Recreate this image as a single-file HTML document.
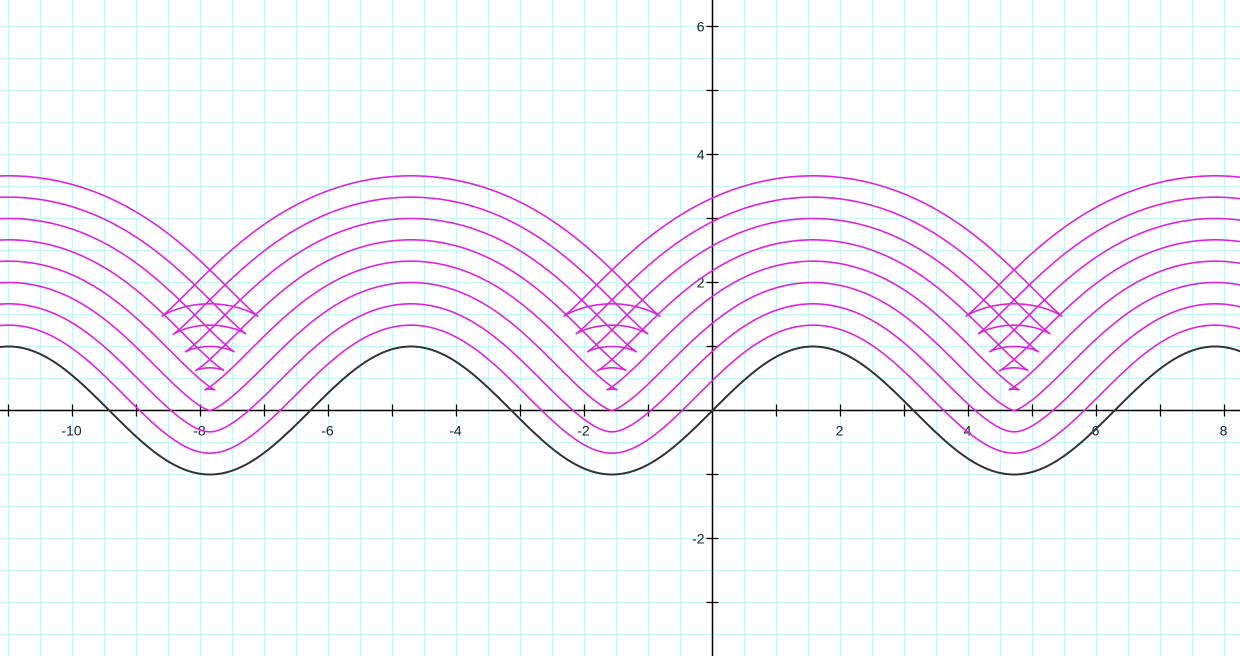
<!DOCTYPE html>
<html><head><meta charset="utf-8"><style>
html,body{margin:0;padding:0;background:#fff;}
svg{display:block;font-family:"Liberation Sans",sans-serif;}
</style></head><body>
<svg id="chart" width="1240" height="656" viewBox="0 0 1240 656" xmlns="http://www.w3.org/2000/svg">
<g id="grid"></g>
<g id="axes"></g>
<g id="curves"></g>
</svg>
<script>
const offsets = [1/3, 2/3, 1, 4/3, 5/3, 2, 7/3, 8/3];
const xTickLabels = [-10, -8, -6, -4, -2, 2, 4, 6, 8];
const yTickLabels = [-2, 2, 4, 6];
const amplitude = 1;

const W = 1240, H = 656, S = 64, OX = 712.5, OY = 410.5;
const sx = x => OX + x * S;
const sy = y => OY - y * S;
const NS = 'http://www.w3.org/2000/svg';
function mk(tag, attrs, parent) {
  const e = document.createElementNS(NS, tag);
  for (const k in attrs) e.setAttribute(k, attrs[k]);
  parent.appendChild(e);
  return e;
}
const grid = document.getElementById('grid');
const axes = document.getElementById('axes');
const curves = document.getElementById('curves');

for (let gx = Math.ceil((0 - OX) / 32) * 32 + OX; gx <= W; gx += 32) {
  const l = mk('line', {x1: gx, y1: 0, x2: gx, y2: H, stroke: '#c4f6f6', 'stroke-width': 1}, grid);
  
  
}
for (let gy = OY - Math.floor(OY / 32) * 32; gy <= H; gy += 32) {
  const l = mk('line', {x1: 0, y1: gy, x2: W, y2: gy, stroke: '#c4f6f6', 'stroke-width': 1}, grid);
  
  
}

const xa = mk('line', {x1: 0, y1: OY, x2: W, y2: OY, stroke: '#000', 'stroke-width': 1.5}, axes);


const ya = mk('line', {x1: OX, y1: 0, x2: OX, y2: H, stroke: '#000', 'stroke-width': 1.5}, axes);


for (let i = -11; i <= 8; i++) {
  if (i === 0) continue;
  const t = mk('line', {x1: sx(i), y1: OY - 6, x2: sx(i), y2: OY + 6, stroke: '#000', 'stroke-width': 1.3}, axes);
  
  
}
for (let i = -3; i <= 6; i++) {
  if (i === 0) continue;
  const t = mk('line', {x1: OX - 6, y1: sy(i), x2: OX + 6, y2: sy(i), stroke: '#000', 'stroke-width': 1.3}, axes);
  
  
}
xTickLabels.forEach(v => {
  const t = mk('text', {x: sx(v) - 1, y: OY + 25, 'text-anchor': 'middle', 'font-size': 14, fill: '#222'}, axes);
  t.textContent = v;
  
  
});
yTickLabels.forEach(v => {
  const t = mk('text', {x: OX - 8, y: sy(v) + 5, 'text-anchor': 'end', 'font-size': 14, fill: '#222'}, axes);
  t.textContent = v;
  
  
});

function curvePath(d) {
  let p = '';
  const x0 = (0 - OX) / S - 3, x1 = (W - OX) / S + 3;
  for (let i = 0; i <= 4000; i++) {
    const t = x0 + (x1 - x0) * i / 4000;
    const c = amplitude * Math.cos(t);
    const n = Math.sqrt(1 + c * c);
    const x = t - d * c / n;
    const y = amplitude * Math.sin(t) + d / n;
    p += (i ? 'L' : 'M') + sx(x).toFixed(2) + ',' + sy(y).toFixed(2);
  }
  return p;
}
offsets.forEach(d => {
  const path = mk('path', {d: curvePath(d), fill: 'none', stroke: '#dd22dd', 'stroke-width': 1.6}, curves);
  
  
});
const base = mk('path', {d: curvePath(0), fill: 'none', stroke: '#333', 'stroke-width': 2}, curves);


</script>
</body></html>
